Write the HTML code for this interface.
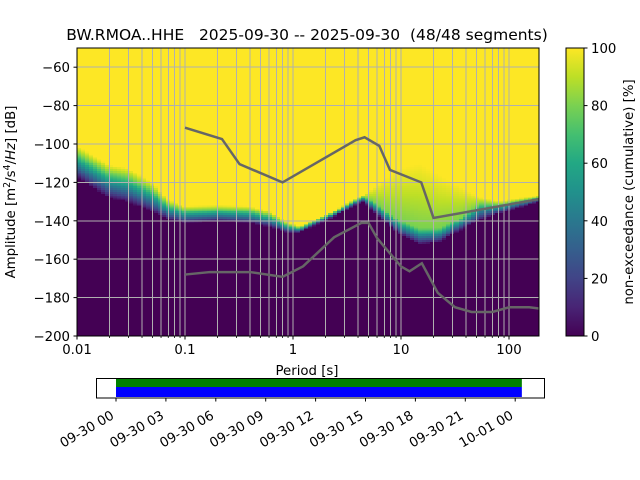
<!DOCTYPE html>
<html><head><meta charset="utf-8">
<style>
body{margin:0;background:#fff;}
svg{display:block;font-family:"DejaVu Sans","Liberation Sans",sans-serif;}
</style></head>
<body>
<svg id="c" width="640" height="480" viewBox="0 0 640 480" xmlns="http://www.w3.org/2000/svg">
<defs id="defs"><clipPath id="axclip"><rect x="77" y="48" width="462" height="288"/></clipPath>
<linearGradient id="virgrad" x1="0" y1="1" x2="0" y2="0">
<stop offset="0" stop-color="#440154"/><stop offset="0.1" stop-color="#482475"/><stop offset="0.2" stop-color="#414487"/><stop offset="0.3" stop-color="#355f8d"/><stop offset="0.4" stop-color="#2a788e"/><stop offset="0.5" stop-color="#21918c"/><stop offset="0.6" stop-color="#22a884"/><stop offset="0.7" stop-color="#44bf70"/><stop offset="0.8" stop-color="#7ad151"/><stop offset="0.9" stop-color="#bddf26"/><stop offset="1" stop-color="#fde725"/>
</linearGradient></defs>
<g id="heat" clip-path="url(#axclip)"></g>
<g id="grid" clip-path="url(#axclip)" shape-rendering="crispEdges"></g>
<g id="models" clip-path="url(#axclip)"></g>
<rect x="77" y="48" width="462" height="288" fill="none" stroke="#000" stroke-width="1"/>
<g id="axes"></g>
<text x="307" y="40" font-size="15.5" text-anchor="middle" xml:space="preserve">BW.RMOA..HHE   2025-09-30 -- 2025-09-30  (48/48 segments)</text>
<text x="307" y="375" font-size="13.3" text-anchor="middle">Period [s]</text>
<text transform="translate(15,192) rotate(-90)" font-size="13.3" text-anchor="middle">Amplitude [m<tspan font-size="9.5" dy="-5">2</tspan><tspan dy="5">/s</tspan><tspan font-size="9.5" dy="-5">4</tspan><tspan dy="5">/</tspan><tspan font-style="italic">Hz</tspan>] [dB]</text>
<rect x="566" y="48" width="18" height="288" fill="url(#virgrad)" stroke="#000" stroke-width="1"/>
<g id="cbar"></g>
<text transform="translate(633,192) rotate(-90)" font-size="13.3" text-anchor="middle">non-exceedance (cumulative) [%]</text>
<g id="timeline"></g>
</svg>
<script>
const NS="http://www.w3.org/2000/svg";
// heatmap boundary data (period s, dB)
const bPeriods=[0.01,0.02,0.03,0.05,0.07,0.1,0.2,0.4,0.6,0.9,1.16,2.2,4.0,4.6,5.6,9.8,15,23,35,54,83,190];
const bLow=[-117,-128,-130,-135,-139,-141,-140,-141,-143,-146,-146,-139,-131,-130,-135,-147,-152,-151,-145,-139.5,-136,-130];
const bMid=[-105,-115,-117,-124,-131.5,-134.5,-134,-134.5,-137,-142.3,-143.8,-136.8,-128.8,-127.4,-130,-140,-144,-144,-139,-131,-131.5,-127.8];
const bHigh=[-101,-111,-112.5,-120,-129,-132.5,-132,-132.5,-135,-141,-143,-136,-128,-126.5,-123,-112.5,-110,-116,-122,-128,-130,-127];
// noise models
const nhnmP=[0.1,0.22,0.32,0.8,3.8,4.6,6.3,7.9,15.4,20,354.8];
const nhnmDb=[-91.5,-97.4,-110.5,-120.0,-98.0,-96.5,-101.0,-113.5,-120.0,-138.5,-126.0];
const nlnmP=[0.1,0.17,0.4,0.8,1.24,2.4,4.3,5,6,10,12,15.6,21.9,31.6,45,70,101,154,328];
const nlnmDb=[-168.0,-166.7,-166.7,-169.2,-163.7,-148.6,-141.1,-141.1,-149.0,-163.75,-166.3,-162.1,-177.5,-185.0,-187.5,-187.5,-185.0,-185.0,-187.5];
const yTicks=[-60,-80,-100,-120,-140,-160,-180,-200];
const xTickVals=[0.01,0.1,1,10,100];
const xTickLabels=["0.01","0.1","1","10","100"];
const cTicks=[0,20,40,60,80,100];
const dateLabels=["09-30 00","09-30 03","09-30 06","09-30 09","09-30 12","09-30 15","09-30 18","09-30 21","10-01 00"];
const covStart=0, covEnd=24.4; // hours

const X0=77,X1=539,Y0=48,Y1=336,PX=108;
const xs=p=>X0+PX*(Math.log10(p)+2);
const ys=d=>Y0+(-50-d)*(Y1-Y0)/150;
function mk(tag,attrs,parent){const e=document.createElementNS(NS,tag);for(const k in attrs)e.setAttribute(k,attrs[k]);parent.appendChild(e);return e;}
const vstops=[[68,1,84],[72,36,117],[65,68,135],[53,95,141],[42,120,142],[33,145,140],[34,168,132],[68,191,112],[122,209,81],[189,223,38],[253,231,37]];
function hx(n){n=Math.max(0,Math.min(255,Math.round(n)));return (n<16?'0':'')+n.toString(16);}
function viridis(t){t=Math.max(0,Math.min(1,t))*10;const i=Math.min(9,Math.floor(t)),f=t-i,a=vstops[i],b=vstops[i+1];return '#'+hx(a[0]+(b[0]-a[0])*f)+hx(a[1]+(b[1]-a[1])*f)+hx(a[2]+(b[2]-a[2])*f);}
function interp(arrP,arrV,p){const lp=Math.log10(p);if(p<=arrP[0])return arrV[0];for(let i=1;i<arrP.length;i++){if(p<=arrP[i]){const a=Math.log10(arrP[i-1]),b=Math.log10(arrP[i]);return arrV[i-1]+(arrV[i]-arrV[i-1])*(lp-a)/(b-a);}}return arrV[arrV.length-1];}
// heatmap: one column per period bin, stepped colour stops per 1-dB bin
const heat=document.getElementById('heat');
const defs=document.getElementById('defs');
const step=Math.pow(2,1/8);
let col=0;
for(let p=0.01/step;p<200;p*=step){
  const pa=p,pb=p*step,pc=Math.sqrt(pa*pb);
  const lo=interp(bPeriods,bLow,pc),mi=interp(bPeriods,bMid,pc),hi=interp(bPeriods,bHigh,pc);
  const xa=Math.floor(xs(pa)),xb=Math.floor(xs(pb))+1;
  const gid='hg'+(col++);
  const g=mk('linearGradient',{id:gid,gradientUnits:'userSpaceOnUse',x1:0,y1:Y1,x2:0,y2:Y0},defs);
  const off=d=>Math.max(0,Math.min(1,(ys(d)-Y1)/(Y0-Y1)));
  mk('stop',{offset:0,'stop-color':'#440154'},g);
  for(let d=Math.floor(lo);d<Math.ceil(hi);d++){
    const c=d+0.5;let v;
    if(c<lo)v=0;else if(c<mi)v=0.05+0.75*(c-lo)/Math.max(0.5,mi-lo);else if(c<hi)v=0.8+0.2*(c-mi)/Math.max(0.5,hi-mi);else v=1;
    const prev=(c-1<lo)?0:null;
    mk('stop',{offset:off(d),'stop-color':(d===Math.floor(lo)?'#440154':g.lastChild.getAttribute('stop-color'))},g);
    mk('stop',{offset:off(d)+0.0001,'stop-color':viridis(v)},g);
  }
  mk('stop',{offset:off(Math.ceil(hi)),'stop-color':g.lastChild.getAttribute('stop-color')},g);
  mk('stop',{offset:off(Math.ceil(hi))+0.0001,'stop-color':'#fde725'},g);
  mk('stop',{offset:1,'stop-color':'#fde725'},g);
  const r=mk('rect',{x:xa,y:Y0,width:xb-xa,height:Y1-Y0,fill:`url(#${gid})`},heat);
  
  
}
// grid
const grid=document.getElementById('grid');
for(let e=-2;e<=2;e++)for(let m=1;m<10;m++){const x=xs(m*Math.pow(10,e));if(x>X1)break;mk('line',{x1:x,x2:x,y1:Y0,y2:Y1,stroke:'#b0b0b0','stroke-width':1},grid);}
yTicks.forEach(d=>mk('line',{x1:X0,x2:X1,y1:ys(d),y2:ys(d),stroke:'#b0b0b0','stroke-width':1},grid));
// models
const models=document.getElementById('models');
const hl=mk('polyline',{points:nhnmP.map((p,i)=>xs(p)+','+ys(nhnmDb[i])).join(' '),fill:'none',stroke:'#666','stroke-width':2.5},models);


const ll=mk('polyline',{points:nlnmP.map((p,i)=>xs(p)+','+ys(nlnmDb[i])).join(' '),fill:'none',stroke:'#666','stroke-width':2.5},models);


// axes ticks
const ax=document.getElementById('axes');
yTicks.forEach(d=>{const y=ys(d);mk('line',{x1:X0-3.5,x2:X0,y1:y,y2:y,stroke:'#000'},ax);
 const t=mk('text',{x:X0-7,y:y+5,'font-size':13.3,'text-anchor':'end'},ax);t.textContent='\u2212'+Math.abs(d);
 
 });
xTickVals.forEach((p,i)=>{const x=xs(p);mk('line',{x1:x,x2:x,y1:Y1,y2:Y1+3.5,stroke:'#000'},ax);
 const t=mk('text',{x:x,y:Y1+18,'font-size':13.3,'text-anchor':'middle'},ax);t.textContent=xTickLabels[i];
 
 });
for(let e=-2;e<=2;e++)for(let m=2;m<10;m++){const x=xs(m*Math.pow(10,e));if(x>X1)break;mk('line',{x1:x,x2:x,y1:Y1,y2:Y1+2,stroke:'#000','stroke-width':0.8},ax);}
// colorbar
const cb=document.getElementById('cbar');
cTicks.forEach(v=>{const y=Y1-(Y1-Y0)*v/100;mk('line',{x1:584,x2:587.5,y1:y,y2:y,stroke:'#000'},cb);
 const t=mk('text',{x:591,y:y+5,'font-size':13.3},cb);t.textContent=v;
 
 });
// timeline
const tl=document.getElementById('timeline');
const TX0=116,TPH=49.9/3;
const tx=h=>TX0+h*TPH;
const g1=mk('rect',{x:tx(covStart),y:379,width:tx(covEnd)-tx(covStart),height:8,fill:'#008000'},tl);


const g2=mk('rect',{x:tx(covStart),y:387,width:tx(covEnd)-tx(covStart),height:10,fill:'#0000ff'},tl);


mk('rect',{x:96.5,y:378.5,width:448,height:19.5,fill:'none',stroke:'#000'},tl);
dateLabels.forEach((l,i)=>{const x=tx(i*3);mk('line',{x1:x,x2:x,y1:398,y2:401.5,stroke:'#000'},tl);
 const t=mk('text',{transform:`translate(${x-1},${418}) rotate(-30)`,'font-size':13.3,'text-anchor':'end'},tl);t.textContent=l;
 
 });
</script>
</body></html>
